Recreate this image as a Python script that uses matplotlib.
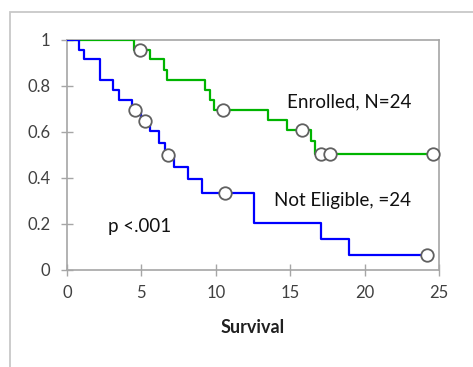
import matplotlib.pyplot as plt
from matplotlib.patches import Rectangle

# Kaplan-Meier style step data
enrolled_t = [0, 4.5, 5.55, 6.5, 6.7, 9.3, 9.6, 9.9, 13.5, 14.8, 16.4, 16.7, 25]
enrolled_s = [1, 0.958, 0.916, 0.871, 0.826, 0.783, 0.74, 0.696, 0.652, 0.608, 0.56, 0.504, 0.504]
enrolled_cens_t = [4.9, 10.5, 15.8, 17.05, 17.7, 24.6]
enrolled_cens_s = [0.958, 0.696, 0.608, 0.504, 0.504, 0.504]

noteligible_t = [0, 0.8, 1.15, 2.2, 3.1, 3.5, 4.36, 5.0, 5.6, 6.2, 6.6, 7.17, 8.1, 9.07,
                 12.55, 17.05, 18.96, 24.2]
noteligible_s = [1, 0.958, 0.917, 0.826, 0.783, 0.739, 0.696, 0.65, 0.604, 0.553, 0.5,
                 0.45, 0.395, 0.333, 0.203, 0.133, 0.065, 0.065]
noteligible_cens_t = [4.6, 5.26, 6.76, 10.65, 24.2]
noteligible_cens_s = [0.696, 0.65, 0.5, 0.333, 0.065]

xticks = [0, 5, 10, 15, 20, 25]
yticks = [0, 0.2, 0.4, 0.6, 0.8, 1]
ytick_labels = ['0', '0.2', '0.4', '0.6', '0.8', '1']

plt.rcParams['font.family'] = ['Lato', 'DejaVu Sans']

fig = plt.figure(figsize=(4.73, 3.67), dpi=100)
fig.patches.append(Rectangle((10 / 473, -0.1), 1.2, 1 - 12 / 367 + 0.1,
                             transform=fig.transFigure, fill=False,
                             edgecolor='#c8c8c8', linewidth=1.3))

ax = fig.add_axes([67 / 473, 1 - 270 / 367, (439 - 67) / 473, (270 - 40) / 367])

ax.step(enrolled_t, enrolled_s, where='post', color='#00b400', linewidth=1.6, zorder=3)
ax.step(noteligible_t, noteligible_s, where='post', color='#0000ff', linewidth=1.6, zorder=3)
ax.plot(enrolled_cens_t, enrolled_cens_s, 'o', markersize=9, markerfacecolor='white',
        markeredgecolor='#606060', markeredgewidth=1.3, zorder=4, clip_on=False)
ax.plot(noteligible_cens_t, noteligible_cens_s, 'o', markersize=9, markerfacecolor='white',
        markeredgecolor='#606060', markeredgewidth=1.3, zorder=4, clip_on=False)

ax.set_xlim(0, 25)
ax.set_ylim(0, 1)
ax.set_xticks(xticks)
ax.set_yticks(yticks)
ax.set_yticklabels(ytick_labels)

for s in ax.spines.values():
    s.set_color('#a6a6a6')
    s.set_linewidth(1.2)
ax.tick_params(direction='inout', length=8, width=1, color='#a6a6a6',
               labelcolor='#404040', labelsize=12)
ax.tick_params(axis='y', pad=8)
ax.tick_params(axis='x', pad=7)

ax.set_xlabel('Survival', fontsize=13, fontweight='bold', color='#202020', labelpad=13)

ax.text(14.76, 0.73, 'Enrolled, N=24', fontsize=13.5, va='center', ha='left', color='#111111')
ax.text(13.9, 0.304, 'Not Eligible, =24', fontsize=13.5, va='center', ha='left', color='#111111')
ax.text(2.76, 0.19, 'p <.001', fontsize=13.5, va='center', ha='left', color='#111111')

fig.savefig('out.png', dpi=100)
